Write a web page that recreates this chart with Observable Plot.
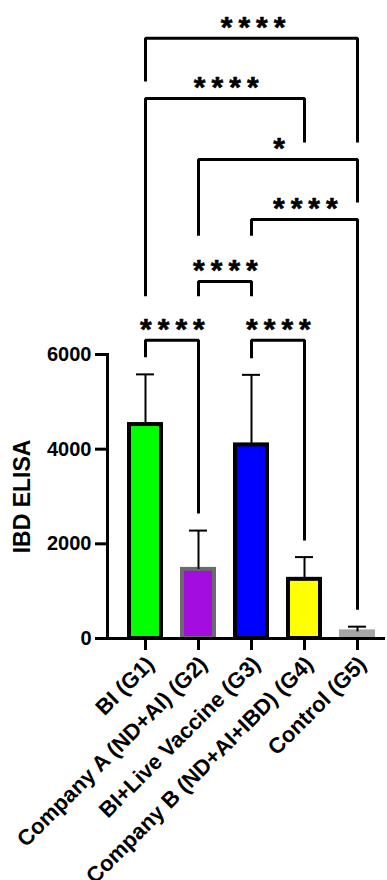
<!DOCTYPE html>
<html><head><meta charset="utf-8">
<script src="https://cdn.jsdelivr.net/npm/d3@7"></script>
<script src="https://cdn.jsdelivr.net/npm/@observablehq/plot@0.6"></script>
<style>body{margin:0;background:#fff;}</style>
</head><body><div id="chart"></div>
<script>
const groups = ["BI (G1)", "Company A (ND+AI) (G2)", "BI+Live Vaccine (G3)", "Company B (ND+AI+IBD) (G4)", "Control (G5)"];
const means = [4520, 1460, 4090, 1250, 140];
const sds = [1060, 820, 1480, 470, 110];
const fills = ["#00ff00", "#a30de0", "#0000ff", "#ffff00", "#a6a6a6"];
const strokes = ["#000000", "#6b6b6b", "#000000", "#000000", "#a6a6a6"];
const yTicks = [0, 2000, 4000, 6000];
const yLabel = "IBD ELISA";
// significance brackets (group indices, label, levels in IBD ELISA units)
const bracketFrom = [0, 0, 1, 2, 1, 0, 2];
const bracketTo = [4, 3, 4, 4, 2, 1, 3];
const bracketLabels = ["****", "****", "*", "****", "****", "****", "****"];
const bracketTops = [12680, 11410, 10120, 8850, 7540, 6300, 6300];
const bracketLeftEnds = [11770, 7230, 8510, 8510, 7230, 5940, 5920];
const bracketRightEnds = [10480, 10480, 9210, 610, 7230, 2640, 2070];

const data = groups.map((g, i) => ({group: g, mean: means[i], upper: means[i] + sds[i], fill: fills[i], stroke: strokes[i]}));
const brackets = bracketLabels.map((label, i) => ({
  id: i, from: groups[bracketFrom[i]], to: groups[bracketTo[i]], label,
  top: bracketTops[i], left: bracketLeftEnds[i], right: bracketRightEnds[i]
}));
const bracketPts = brackets.flatMap(b => [
  {id: b.id, g: b.from, v: b.left},
  {id: b.id, g: b.from, v: b.top},
  {id: b.id, g: b.to, v: b.top},
  {id: b.id, g: b.to, v: b.right}
]);

const xOpts = {type: "band", domain: groups, range: [116, 385], paddingInner: 0.4, paddingOuter: 0.2};
const sx = Plot.scale({x: xOpts});
const starMarks = brackets.map(b => Plot.text([b], {
  x: "from", y: "top", text: "label",
  dx: (sx.apply(b.to) - sx.apply(b.from)) / 2 + 3, dy: -11,
  fontSize: 30, fontWeight: "bold", fill: "#000", stroke: "#000", strokeWidth: 0.6
}));

const chart = Plot.plot({
  width: 387, height: 880,
  marginLeft: 107, marginRight: 2, marginTop: 354, marginBottom: 242,
  style: {fontFamily: "'Liberation Sans', Arial, sans-serif", fontWeight: "bold", color: "#000", background: "#fff"},
  x: {...xOpts, label: null},
  y: {domain: [0, 6000], label: null},
  marks: [
    Plot.barY(data, {x: "group", y: "mean", fill: "fill", stroke: "stroke", strokeWidth: 4}),
    Plot.ruleX(data, {x: "group", y1: "mean", y2: "upper", stroke: "#000", strokeWidth: 2}),
    Plot.tickY(data, {x: "group", y: "upper", stroke: "#000", strokeWidth: 2, insetLeft: 7, insetRight: 7}),
    Plot.ruleY([0], {stroke: "#000", strokeWidth: 3}),
    Plot.frame({anchor: "left", stroke: "#000", strokeWidth: 3}),
    Plot.axisY({ticks: yTicks, tickFormat: d3.format("d"), tickSize: 12, tickPadding: 4, strokeWidth: 3, fontSize: 20, label: null}),
    Plot.axisX({tickSize: 12, tickFormat: null, strokeWidth: 3, label: null}),
    Plot.axisX({tickSize: 0, tickRotate: -45, tickPadding: 22, dx: 5, fontSize: 22, label: null}),
    Plot.text([yLabel], {frameAnchor: "left", y: [(yTicks[0] + yTicks[yTicks.length - 1]) / 2], rotate: -90, dx: -85, textAnchor: "middle", lineAnchor: "middle", fontSize: 23, fontWeight: "bold", fill: "#000"}),
    Plot.line(bracketPts, {x: "g", y: "v", z: "id", stroke: "#000", strokeWidth: 3, strokeLinejoin: "miter", strokeLinecap: "butt"}),
    ...starMarks
  ]
});
d3.select(chart).selectAll("text").filter(function() { return /^\*+$/.test(this.textContent); }).attr("letter-spacing", "6px");
document.getElementById("chart").appendChild(chart);
</script>
</body></html>
